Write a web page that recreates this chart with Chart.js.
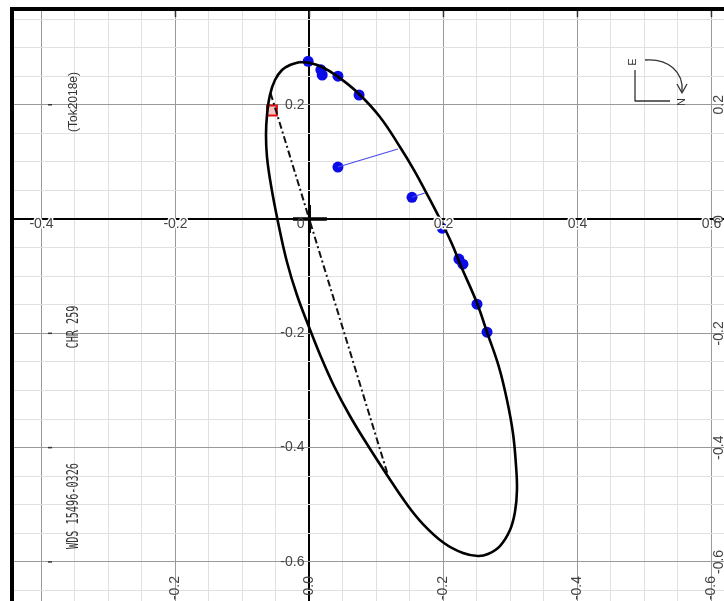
<!DOCTYPE html>
<html>
<head>
<meta charset="utf-8">
<script src="https://cdn.jsdelivr.net/npm/chart.js@4.4.1/dist/chart.umd.min.js"></script>
<style>
  html, body { margin: 0; padding: 0; background: #fff; }
  canvas { display: block; }
</style>
</head>
<body>
<canvas id="orbit-graph" width="724" height="601"></canvas>
<script>
// apparent orbit (arcsec)
let orbitX = [-0.0142, 0.0007, 0.0187, 0.0410, 0.0709, 0.1052, 0.1351, 0.1560, 0.1754, 0.1948,
              0.2127, 0.2261, 0.2500, 0.2649, 0.2828, 0.2948, 0.3037, 0.3082, 0.3097, 0.3067,
              0.2993, 0.2843, 0.2664, 0.2515, 0.2291, 0.2007, 0.1694, 0.1440, 0.1157, 0.0858,
              0.0604, 0.0366, 0.0172, -0.0007, -0.0187, -0.0336, -0.0470, -0.0575, -0.0634, -0.0649,
              -0.0634, -0.0590, -0.0515, -0.0410, -0.0291, -0.0142];
let orbitY = [0.2747, 0.2730, 0.2660, 0.2502, 0.2222, 0.1785, 0.1260, 0.0857, 0.0437, 0.0000,
              -0.0437, -0.0822, -0.1470, -0.1977, -0.2590, -0.3167, -0.3745, -0.4304, -0.4742, -0.5127,
              -0.5442, -0.5722, -0.5862, -0.5897, -0.5844, -0.5669, -0.5337, -0.4969, -0.4479, -0.3937,
              -0.3447, -0.2922, -0.2415, -0.1890, -0.1330, -0.0752, -0.0052, 0.0595, 0.1085, 0.1470,
              0.1820, 0.2170, 0.2432, 0.2607, 0.2695, 0.2747];

// measures
let obsX = [-0.002, 0.017, 0.019, 0.0425, 0.074, 0.0425, 0.153, 0.198, 0.223, 0.229, 0.250, 0.265];
let obsY = [0.276, 0.261, 0.252, 0.250, 0.217, 0.091, 0.038, -0.016, -0.070, -0.079, -0.149, -0.198];

// O-C lines
let resFromX = [0.0425, 0.153];
let resFromY = [0.091, 0.038];
let resToX = [0.132, 0.172];
let resToY = [0.1225, 0.0455];

// line of nodes
let nodesX = [-0.058, 0.116];
let nodesY = [0.220, -0.444];

// red square
let markX = [-0.056];
let markY = [0.190];

// primary cross
let crossHX = [-0.0246, 0.026];
let crossVY = [0.0245, -0.0245];

// grid and labels
let xGrid = [-0.4, -0.35, -0.3, -0.25, -0.2, -0.15, -0.1, -0.05, 0, 0.05, 0.1, 0.15, 0.2, 0.25, 0.3, 0.35, 0.4, 0.45, 0.5, 0.55, 0.6];
let yGrid = [0.35, 0.3, 0.25, 0.2, 0.15, 0.1, 0.05, 0, -0.05, -0.1, -0.15, -0.2, -0.25, -0.3, -0.35, -0.4, -0.45, -0.5, -0.55, -0.6, -0.65];
let xTickValues = [-0.4, -0.2, 0, 0.2, 0.4, 0.6];
let xTickLabels = ['-0.4', '-0.2', '0', '0.2', '0.4', '0.6'];
let yTickValues = [0.2, -0.2, -0.4, -0.6];
let yTickLabels = ['0.2', '-0.2', '-0.4', '-0.6'];
let rightTickValues = [0.2, 0, -0.2, -0.4, -0.6];
let rightTickLabels = ['0.2', '0', '-0.2', '-0.4', '-0.6'];
let bottomTickValues = [-0.2, 0, 0.2, 0.4, 0.6];
let bottomTickLabels = ['-0.2', '0.0', '-0.2', '-0.4', '-0.6'];
let sideTexts = ['(Tok2018e)', 'CHR 259', 'WDS 15496-0326'];

function pts(xs, ys) {
    return xs.map((x, i) => ({ x: x, y: ys[i] }));
}

function haloText(ctx, text, x, y) {
    ctx.strokeText(text, x, y);
    ctx.fillText(text, x, y);
}

let decorPlugin = {
    id: 'decor',
    afterDatasetsDraw(chart) {
        let ctx = chart.ctx;
        let sx = chart.scales.x, sy = chart.scales.y;
        let x0 = sx.getPixelForValue(0), y0 = sy.getPixelForValue(0);
        ctx.save();
        ctx.fillStyle = '#444';
        ctx.strokeStyle = '#fff';
        ctx.lineWidth = 3;
        ctx.lineJoin = 'round';
        ctx.font = '14px "Liberation Sans", Arial, sans-serif';

        // labels along the axes
        ctx.textBaseline = 'top';
        xTickValues.forEach((v, i) => {
            let px = sx.getPixelForValue(v);
            if (v === 0) {
                ctx.textAlign = 'right';
                ctx.fillText(xTickLabels[i], px - 5, y0 - 2);
            } else {
                ctx.textAlign = 'center';
                haloText(ctx, xTickLabels[i], px, y0 - 2);
            }
        });
        ctx.textAlign = 'right';
        ctx.textBaseline = 'middle';
        yTickValues.forEach((v, i) => {
            ctx.fillText(yTickLabels[i], x0 - 5, sy.getPixelForValue(v));
        });

        // rotated labels right and bottom
        rightTickValues.forEach((v, i) => {
            ctx.save();
            ctx.translate(719, sy.getPixelForValue(v));
            ctx.rotate(-Math.PI / 2);
            ctx.textAlign = 'center';
            ctx.fillText(rightTickLabels[i], 0, 0);
            ctx.restore();
        });
        bottomTickValues.forEach((v, i) => {
            ctx.save();
            ctx.translate(sx.getPixelForValue(v), 576);
            ctx.rotate(-Math.PI / 2);
            ctx.textAlign = 'right';
            ctx.fillText(bottomTickLabels[i], 0, 0);
            ctx.restore();
        });

        // small ticks
        ctx.strokeStyle = '#333';
        ctx.lineWidth = 1.5;
        bottomTickValues.forEach((v) => {
            let px = sx.getPixelForValue(v);
            ctx.beginPath(); ctx.moveTo(px, 11); ctx.lineTo(px, 17); ctx.stroke();
        });
        yTickValues.forEach((v) => {
            let py = sy.getPixelForValue(v);
            ctx.beginPath(); ctx.moveTo(48, py); ctx.lineTo(52, py); ctx.stroke();
        });

        // side captions
        ctx.fillStyle = '#333';
        ctx.save();
        ctx.translate(74, 102);
        ctx.rotate(-Math.PI / 2);
        ctx.textAlign = 'center';
        ctx.font = '12px "Liberation Sans", Arial, sans-serif';
        ctx.fillText(sideTexts[0], 0, 0);
        ctx.restore();
        [[327, sideTexts[1]], [506, sideTexts[2]]].forEach((t) => {
            ctx.save();
            ctx.translate(74, t[0]);
            ctx.rotate(-Math.PI / 2);
            ctx.scale(0.68, 1);
            ctx.textAlign = 'center';
            ctx.font = '15px "DejaVu Sans Mono", monospace';
            ctx.fillText(t[1], 0, 0);
            ctx.restore();
        });

        // compass
        ctx.strokeStyle = '#333';
        ctx.lineWidth = 1.3;
        ctx.beginPath();
        ctx.moveTo(635, 70); ctx.lineTo(635, 101); ctx.lineTo(670, 101);
        ctx.stroke();
        ctx.beginPath();
        ctx.moveTo(645, 60);
        ctx.bezierCurveTo(668, 58, 684, 72, 682, 92);
        ctx.stroke();
        ctx.beginPath();
        ctx.moveTo(677, 84); ctx.lineTo(682, 93); ctx.lineTo(687, 84);
        ctx.stroke();
        ctx.font = '11px "Liberation Sans", Arial, sans-serif';
        ctx.textAlign = 'center';
        [[633, 62, 'E'], [682, 102, 'N']].forEach((t) => {
            ctx.save();
            ctx.translate(t[0], t[1]);
            ctx.rotate(-Math.PI / 2);
            ctx.fillText(t[2], 0, 0);
            ctx.restore();
        });

        // frame
        ctx.fillStyle = '#000';
        ctx.fillRect(10, 7, 714, 4);
        ctx.fillRect(10, 7, 4, 594);
        ctx.restore();
    }
};

let oOrbitGraph = {
    init: function() {
        this.cacheDom();
        this.setGraphsData();
    },
    cacheDom: function() {
        this.oGraph = document.getElementById('orbit-graph').getContext('2d');
    },
    setGraphsData() {
        let data = {
            datasets: [
                {
                    label: 'orbit',
                    data: pts(orbitX, orbitY),
                    showLine: true,
                    borderColor: '#000',
                    borderWidth: 2.6,
                    pointRadius: 0,
                    tension: 0.4,
                    fill: false
                },
                {
                    label: 'nodes',
                    data: pts(nodesX, nodesY),
                    showLine: true,
                    borderColor: '#111',
                    borderWidth: 2,
                    borderDash: [7, 3, 2, 3],
                    pointRadius: 0
                },
                {
                    label: 'cross h',
                    data: pts(crossHX, [0, 0]),
                    showLine: true,
                    borderColor: '#000',
                    borderWidth: 3.5,
                    pointRadius: 0
                },
                {
                    label: 'cross v',
                    data: pts([0, 0], crossVY),
                    showLine: true,
                    borderColor: '#000',
                    borderWidth: 3,
                    pointRadius: 0
                },
                {
                    label: 'oc1',
                    data: pts([resFromX[0], resToX[0]], [resFromY[0], resToY[0]]),
                    showLine: true,
                    borderColor: '#4b4bf0',
                    borderWidth: 1.2,
                    pointRadius: 0
                },
                {
                    label: 'oc2',
                    data: pts([resFromX[1], resToX[1]], [resFromY[1], resToY[1]]),
                    showLine: true,
                    borderColor: '#4b4bf0',
                    borderWidth: 1.2,
                    pointRadius: 0
                },
                {
                    label: 'measures',
                    data: pts(obsX, obsY),
                    backgroundColor: '#0b0be8',
                    borderWidth: 0,
                    pointRadius: 5.5
                },
                {
                    label: 'mark',
                    data: pts(markX, markY),
                    pointStyle: 'rect',
                    backgroundColor: '#f6c2c2',
                    borderColor: '#e01010',
                    borderWidth: 2,
                    pointRadius: 7
                }
            ]
        };

        //options
        let gridColor = (ctx) => {
            let v = Math.round(ctx.tick.value * 100);
            if (v === 0) return '#000';
            if (v % 20 === 0) return '#999';
            return '#e0e0e0';
        };
        let gridWidth = (ctx) => Math.round(ctx.tick.value * 100) === 0 ? 2 : 1;

        let options = {
            responsive: false,
            animation: false,
            layout: { autoPadding: false, padding: { left: 12, top: 9, right: 0, bottom: 0 } },
            plugins: {
                legend: { display: false },
                tooltip: { enabled: false }
            },
            scales: {
                x: {
                    type: 'linear',
                    min: -0.444,
                    max: 0.6187,
                    afterBuildTicks: (axis) => { axis.ticks = xGrid.map((v) => ({ value: v })); },
                    afterFit: (axis) => { axis.height = 0; },
                    ticks: { display: false },
                    border: { display: false },
                    grid: { color: gridColor, lineWidth: gridWidth, drawTicks: false }
                },
                y: {
                    type: 'linear',
                    min: -0.6684,
                    max: 0.3675,
                    afterBuildTicks: (axis) => { axis.ticks = yGrid.map((v) => ({ value: v })); },
                    afterFit: (axis) => { axis.width = 0; },
                    ticks: { display: false },
                    border: { display: false },
                    grid: { color: gridColor, lineWidth: gridWidth, drawTicks: false }
                }
            }
        };

        let myOrbitChart = new Chart(this.oGraph, {
            type: 'scatter',
            data: data,
            options: options,
            plugins: [decorPlugin]
        });
    }
};

oOrbitGraph.init();
</script>
</body>
</html>
